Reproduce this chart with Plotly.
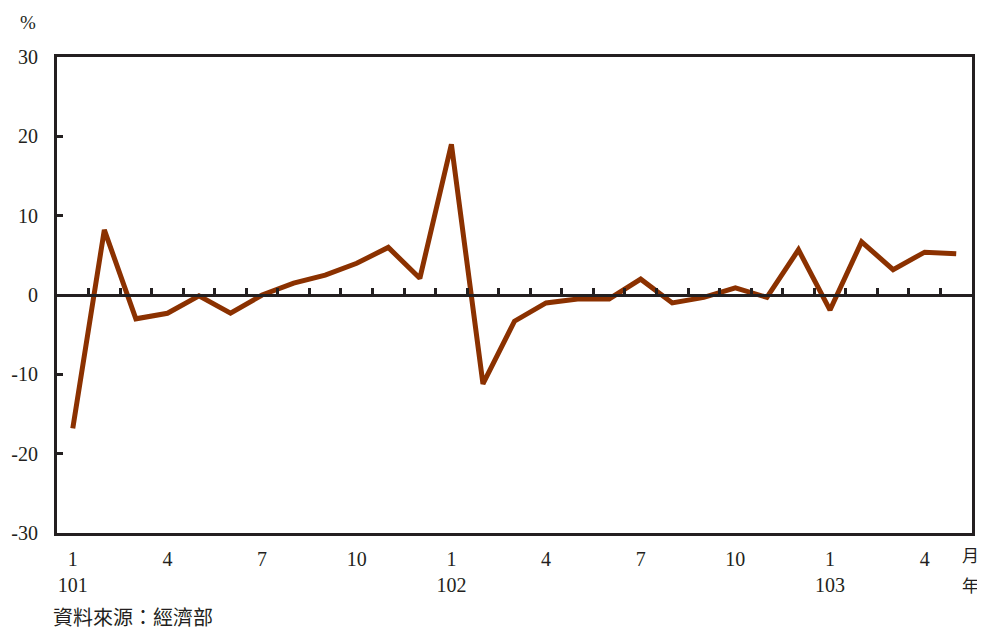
import plotly.graph_objects as go

years = ["101"] * 12 + ["102"] * 12 + ["103"] * 5
months = list(range(1, 13)) + list(range(1, 13)) + list(range(1, 6))
values = [-16.8, 8.2, -3.0, -2.3, -0.1, -2.3, 0.0, 1.5, 2.5, 4.0, 6.0, 2.1,
          19.0, -11.2, -3.3, -1.0, -0.5, -0.5, 2.0, -1.0, -0.3, 0.9, -0.3, 5.7,
          -1.9, 6.7, 3.2, 5.4, 5.2]
y_ticks = [30, 20, 10, 0, -10, -20, -30]

n = len(values)
x = list(range(n))
tickvals = [i for i in x if months[i] in (1, 4, 7, 10)]
ticktext = [f"{months[i]}<br>{years[i]}" if months[i] == 1 else f"{months[i]}" for i in tickvals]

serif = "Liberation Serif, Times New Roman, serif"
cjk = "Noto Sans CJK TC, sans-serif"
ink = "#231f20"

OFF = 8  # page body margin
W, H = 985 - OFF, 631 - OFF
l, r, t, b = 57 - OFF, 13, 57 - OFF, 98
pw, ph = W - l - r, H - t - b


def px2paper(px, py):
    return (px - OFF - l) / pw, (H - b - (py - OFF)) / ph


fig = go.Figure()
fig.add_trace(go.Scatter(x=x, y=values, mode="lines",
                         line=dict(color="#8B3100", width=5), showlegend=False,
                         hoverinfo="skip"))
# zero line axis with boundary ticks
fig.add_trace(go.Scatter(x=[-0.5, n - 0.5], y=[0, 0], xaxis="x2", mode="lines",
                         line=dict(color="rgba(0,0,0,0)", width=0), showlegend=False,
                         hoverinfo="skip"))

anns = []
for text, px, py, xa, ya, fam, sz in [("%", 28, 22, "center", "middle", serif, 19),
                                      ("月", 970, 569, "center", "bottom", cjk, 17),
                                      ("年", 970, 570, "center", "top", cjk, 17),
                                      ("資料來源：經濟部", 51, 616, "left", "middle", cjk, 20)]:
    ax, ay = px2paper(px, py)
    anns.append(dict(text=text, x=ax, y=ay, xref="paper", yref="paper", showarrow=False,
                     xanchor=xa, yanchor=ya, font=dict(family=fam, size=sz, color=ink)))

fig.update_layout(
    width=W, height=H,
    margin=dict(l=l, r=r, t=t, b=b, autoexpand=False),
    paper_bgcolor="white", plot_bgcolor="white",
    xaxis=dict(range=[-0.5, n - 0.5], tickmode="array", tickvals=tickvals, ticktext=ticktext,
               ticks="", showgrid=False, zeroline=False, showline=True, linecolor=ink,
               linewidth=3, mirror=True, tickfont=dict(family=serif, size=20, color=ink),
               ticklabelstandoff=6, automargin=False),
    xaxis2=dict(range=[-0.5, n - 0.5], overlaying="x", anchor="free", position=0.5, side="top",
                tickmode="array", tickvals=[i + 0.5 for i in range(n - 1)],
                ticks="outside", ticklen=6, tickwidth=3, tickcolor=ink,
                showticklabels=False, showgrid=False, zeroline=False,
                showline=True, linecolor=ink, linewidth=3, automargin=False),
    yaxis=dict(range=[-30, 30], tickmode="array", tickvals=y_ticks,
               ticktext=[str(v) for v in y_ticks],
               ticks="inside", ticklen=6, tickwidth=3, tickcolor=ink,
               showgrid=False, zeroline=False, showline=True, linecolor=ink,
               linewidth=3, mirror=True, tickfont=dict(family=serif, size=20, color=ink),
               ticklabelstandoff=12, automargin=False),
    annotations=anns,
)

fig.write_html("out.html")
